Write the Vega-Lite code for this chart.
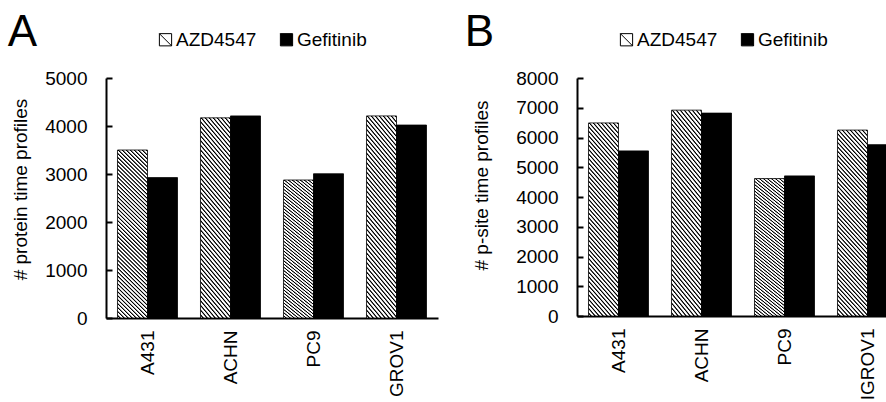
{
  "$schema": "https://vega.github.io/schema/vega-lite/v6.json",
  "padding": {"left": 7, "top": 11, "right": 0, "bottom": 0},
  "config": {
    "view": {"stroke": null},
    "font": "Liberation Sans",
    "axis": {"domainColor": "#000", "domainWidth": 2, "tickColor": "#000", "tickWidth": 2, "labelColor": "#000", "labelFontSize": 19, "labelFont": "Liberation Sans", "titleFont": "Liberation Sans", "titleFontSize": 19, "titleFontWeight": "normal", "titleColor": "#000", "grid": false},
    "axisY": {"tickSize": -6, "labelPadding": 25, "titlePadding": 14, "format": "d"},
    "axisX": {"ticks": false, "labelAngle": -90, "labelPadding": 12},
    "legend": {"labelFontSize": 19, "labelFont": "Liberation Sans", "labelColor": "#000", "symbolType": "M-1,-1H1V1H-1Z M-1,-1L1,1", "symbolSize": 150, "symbolStrokeColor": "#000", "symbolStrokeWidth": 1, "columnPadding": 20, "labelOffset": 1, "padding": 0},
    "title": {"fontSize": 44, "font": "Liberation Sans", "fontWeight": "normal", "color": "#000", "anchor": "start", "frame": "bounds", "offset": -25}
  },
  "datasets": {
    "a": [
      {"cell": "A431", "drug": "AZD4547", "count": 3500},
      {"cell": "A431", "drug": "Gefitinib", "count": 2925},
      {"cell": "ACHN", "drug": "AZD4547", "count": 4170},
      {"cell": "ACHN", "drug": "Gefitinib", "count": 4210},
      {"cell": "PC9", "drug": "AZD4547", "count": 2875},
      {"cell": "PC9", "drug": "Gefitinib", "count": 3005},
      {"cell": "GROV1", "drug": "AZD4547", "count": 4210},
      {"cell": "GROV1", "drug": "Gefitinib", "count": 4020}
    ],
    "b": [
      {"cell": "A431", "drug": "AZD4547", "count": 6490},
      {"cell": "A431", "drug": "Gefitinib", "count": 5550},
      {"cell": "ACHN", "drug": "AZD4547", "count": 6920},
      {"cell": "ACHN", "drug": "Gefitinib", "count": 6820},
      {"cell": "PC9", "drug": "AZD4547", "count": 4620},
      {"cell": "PC9", "drug": "Gefitinib", "count": 4710},
      {"cell": "IGROV1", "drug": "AZD4547", "count": 6250},
      {"cell": "IGROV1", "drug": "Gefitinib", "count": 5760}
    ]
  },
  "resolve": {"scale": {"x": "independent", "y": "independent", "fill": "independent"}, "legend": {"fill": "independent"}},
  "spacing": 26,
  "hconcat": [
    {
      "title": {"text": "A", "dx": -4},
      "data": {"name": "a"},
      "width": 332,
      "height": 240,
      "mark": {"type": "bar", "stroke": "#000", "strokeWidth": 0.8},
      "encoding": {
        "x": {"field": "cell", "type": "nominal", "sort": null, "scale": {"paddingInner": 0.277, "paddingOuter": 0.1385}, "axis": {"title": null}},
        "xOffset": {"field": "drug", "type": "nominal", "sort": ["AZD4547", "Gefitinib"]},
        "y": {"field": "count", "type": "quantitative", "scale": {"domain": [0, 5000]}, "axis": {"title": "# protein time profiles", "titleY": 111, "values": [0, 1000, 2000, 3000, 4000, 5000]}},
        "fill": {
          "condition": {"test": "datum.drug === 'AZD4547'", "value":
          {"gradient": "linear", "x1": 0, "y1": 1, "x2": 0.2014, "y2": -0.141, "stops": [
{"offset":0,"color":"#fff"},{"offset":0.008,"color":"#fff"},{"offset":0.012,"color":"#000"},{"offset":0.015,"color":"#000"},
{"offset":0.02,"color":"#fff"},{"offset":0.028,"color":"#fff"},{"offset":0.032,"color":"#000"},{"offset":0.035,"color":"#000"},
{"offset":0.04,"color":"#fff"},{"offset":0.048,"color":"#fff"},{"offset":0.052,"color":"#000"},{"offset":0.055,"color":"#000"},
{"offset":0.06,"color":"#fff"},{"offset":0.068,"color":"#fff"},{"offset":0.072,"color":"#000"},{"offset":0.075,"color":"#000"},
{"offset":0.08,"color":"#fff"},{"offset":0.088,"color":"#fff"},{"offset":0.092,"color":"#000"},{"offset":0.095,"color":"#000"},
{"offset":0.1,"color":"#fff"},{"offset":0.108,"color":"#fff"},{"offset":0.112,"color":"#000"},{"offset":0.115,"color":"#000"},
{"offset":0.12,"color":"#fff"},{"offset":0.128,"color":"#fff"},{"offset":0.132,"color":"#000"},{"offset":0.135,"color":"#000"},
{"offset":0.14,"color":"#fff"},{"offset":0.148,"color":"#fff"},{"offset":0.152,"color":"#000"},{"offset":0.155,"color":"#000"},
{"offset":0.16,"color":"#fff"},{"offset":0.168,"color":"#fff"},{"offset":0.172,"color":"#000"},{"offset":0.175,"color":"#000"},
{"offset":0.18,"color":"#fff"},{"offset":0.188,"color":"#fff"},{"offset":0.192,"color":"#000"},{"offset":0.195,"color":"#000"},
{"offset":0.2,"color":"#fff"},{"offset":0.208,"color":"#fff"},{"offset":0.212,"color":"#000"},{"offset":0.215,"color":"#000"},
{"offset":0.22,"color":"#fff"},{"offset":0.228,"color":"#fff"},{"offset":0.232,"color":"#000"},{"offset":0.235,"color":"#000"},
{"offset":0.24,"color":"#fff"},{"offset":0.248,"color":"#fff"},{"offset":0.252,"color":"#000"},{"offset":0.255,"color":"#000"},
{"offset":0.26,"color":"#fff"},{"offset":0.268,"color":"#fff"},{"offset":0.272,"color":"#000"},{"offset":0.275,"color":"#000"},
{"offset":0.28,"color":"#fff"},{"offset":0.288,"color":"#fff"},{"offset":0.292,"color":"#000"},{"offset":0.295,"color":"#000"},
{"offset":0.3,"color":"#fff"},{"offset":0.308,"color":"#fff"},{"offset":0.312,"color":"#000"},{"offset":0.315,"color":"#000"},
{"offset":0.32,"color":"#fff"},{"offset":0.328,"color":"#fff"},{"offset":0.332,"color":"#000"},{"offset":0.335,"color":"#000"},
{"offset":0.34,"color":"#fff"},{"offset":0.348,"color":"#fff"},{"offset":0.352,"color":"#000"},{"offset":0.355,"color":"#000"},
{"offset":0.36,"color":"#fff"},{"offset":0.368,"color":"#fff"},{"offset":0.372,"color":"#000"},{"offset":0.375,"color":"#000"},
{"offset":0.38,"color":"#fff"},{"offset":0.388,"color":"#fff"},{"offset":0.392,"color":"#000"},{"offset":0.395,"color":"#000"},
{"offset":0.4,"color":"#fff"},{"offset":0.408,"color":"#fff"},{"offset":0.412,"color":"#000"},{"offset":0.415,"color":"#000"},
{"offset":0.42,"color":"#fff"},{"offset":0.428,"color":"#fff"},{"offset":0.432,"color":"#000"},{"offset":0.435,"color":"#000"},
{"offset":0.44,"color":"#fff"},{"offset":0.448,"color":"#fff"},{"offset":0.452,"color":"#000"},{"offset":0.455,"color":"#000"},
{"offset":0.46,"color":"#fff"},{"offset":0.468,"color":"#fff"},{"offset":0.472,"color":"#000"},{"offset":0.475,"color":"#000"},
{"offset":0.48,"color":"#fff"},{"offset":0.488,"color":"#fff"},{"offset":0.492,"color":"#000"},{"offset":0.495,"color":"#000"},
{"offset":0.5,"color":"#fff"},{"offset":0.508,"color":"#fff"},{"offset":0.512,"color":"#000"},{"offset":0.515,"color":"#000"},
{"offset":0.52,"color":"#fff"},{"offset":0.528,"color":"#fff"},{"offset":0.532,"color":"#000"},{"offset":0.535,"color":"#000"},
{"offset":0.54,"color":"#fff"},{"offset":0.548,"color":"#fff"},{"offset":0.552,"color":"#000"},{"offset":0.555,"color":"#000"},
{"offset":0.56,"color":"#fff"},{"offset":0.568,"color":"#fff"},{"offset":0.572,"color":"#000"},{"offset":0.575,"color":"#000"},
{"offset":0.58,"color":"#fff"},{"offset":0.588,"color":"#fff"},{"offset":0.592,"color":"#000"},{"offset":0.595,"color":"#000"},
{"offset":0.6,"color":"#fff"},{"offset":0.608,"color":"#fff"},{"offset":0.612,"color":"#000"},{"offset":0.615,"color":"#000"},
{"offset":0.62,"color":"#fff"},{"offset":0.628,"color":"#fff"},{"offset":0.632,"color":"#000"},{"offset":0.635,"color":"#000"},
{"offset":0.64,"color":"#fff"},{"offset":0.648,"color":"#fff"},{"offset":0.652,"color":"#000"},{"offset":0.655,"color":"#000"},
{"offset":0.66,"color":"#fff"},{"offset":0.668,"color":"#fff"},{"offset":0.672,"color":"#000"},{"offset":0.675,"color":"#000"},
{"offset":0.68,"color":"#fff"},{"offset":0.688,"color":"#fff"},{"offset":0.692,"color":"#000"},{"offset":0.695,"color":"#000"},
{"offset":0.7,"color":"#fff"},{"offset":0.708,"color":"#fff"},{"offset":0.712,"color":"#000"},{"offset":0.715,"color":"#000"},
{"offset":0.72,"color":"#fff"},{"offset":0.728,"color":"#fff"},{"offset":0.732,"color":"#000"},{"offset":0.735,"color":"#000"},
{"offset":0.74,"color":"#fff"},{"offset":0.748,"color":"#fff"},{"offset":0.752,"color":"#000"},{"offset":0.755,"color":"#000"},
{"offset":0.76,"color":"#fff"},{"offset":0.768,"color":"#fff"},{"offset":0.772,"color":"#000"},{"offset":0.775,"color":"#000"},
{"offset":0.78,"color":"#fff"},{"offset":0.788,"color":"#fff"},{"offset":0.792,"color":"#000"},{"offset":0.795,"color":"#000"},
{"offset":0.8,"color":"#fff"},{"offset":0.808,"color":"#fff"},{"offset":0.812,"color":"#000"},{"offset":0.815,"color":"#000"},
{"offset":0.82,"color":"#fff"},{"offset":0.828,"color":"#fff"},{"offset":0.832,"color":"#000"},{"offset":0.835,"color":"#000"},
{"offset":0.84,"color":"#fff"},{"offset":0.848,"color":"#fff"},{"offset":0.852,"color":"#000"},{"offset":0.855,"color":"#000"},
{"offset":0.86,"color":"#fff"},{"offset":0.868,"color":"#fff"},{"offset":0.872,"color":"#000"},{"offset":0.875,"color":"#000"},
{"offset":0.88,"color":"#fff"},{"offset":0.888,"color":"#fff"},{"offset":0.892,"color":"#000"},{"offset":0.895,"color":"#000"},
{"offset":0.9,"color":"#fff"},{"offset":0.908,"color":"#fff"},{"offset":0.912,"color":"#000"},{"offset":0.915,"color":"#000"},
{"offset":0.92,"color":"#fff"},{"offset":0.928,"color":"#fff"},{"offset":0.932,"color":"#000"},{"offset":0.935,"color":"#000"},
{"offset":0.94,"color":"#fff"},{"offset":0.948,"color":"#fff"},{"offset":0.952,"color":"#000"},{"offset":0.955,"color":"#000"},
{"offset":0.96,"color":"#fff"},{"offset":0.968,"color":"#fff"},{"offset":0.972,"color":"#000"},{"offset":0.975,"color":"#000"},
{"offset":0.98,"color":"#fff"},{"offset":0.988,"color":"#fff"},{"offset":0.992,"color":"#000"},{"offset":0.995,"color":"#000"},
{"offset":1,"color":"#fff"}
          ]}},
          "field": "drug", "type": "nominal",
          "scale": {"domain": ["AZD4547", "Gefitinib"], "range": ["#fff", "#000"]},
          "legend": {"title": null, "orient": "none", "legendX": 50, "legendY": -48, "direction": "horizontal",
            "encode": {"symbols": {"update": {"stroke": {"value": "#000"}, "strokeWidth": {"value": 1}}}}}
        }
      }
    },
    {
      "title": {"text": "B", "dx": -8},
      "data": {"name": "b"},
      "width": 332,
      "height": 238,
      "mark": {"type": "bar", "stroke": "#000", "strokeWidth": 0.8},
      "encoding": {
        "x": {"field": "cell", "type": "nominal", "sort": null, "scale": {"paddingInner": 0.277, "paddingOuter": 0.1385}, "axis": {"title": null}},
        "xOffset": {"field": "drug", "type": "nominal", "sort": ["AZD4547", "Gefitinib"]},
        "y": {"field": "count", "type": "quantitative", "scale": {"domain": [0, 8000]}, "axis": {"title": "# p-site time profiles", "titleY": 107, "titlePadding": 24, "values": [0, 1000, 2000, 3000, 4000, 5000, 6000, 7000, 8000]}},
        "fill": {
          "condition": {"test": "datum.drug === 'AZD4547'", "value":
          {"gradient": "linear", "x1": 0, "y1": 1, "x2": 0.2014, "y2": -0.141, "stops": [
{"offset":0,"color":"#fff"},{"offset":0.008,"color":"#fff"},{"offset":0.012,"color":"#000"},{"offset":0.015,"color":"#000"},
{"offset":0.02,"color":"#fff"},{"offset":0.028,"color":"#fff"},{"offset":0.032,"color":"#000"},{"offset":0.035,"color":"#000"},
{"offset":0.04,"color":"#fff"},{"offset":0.048,"color":"#fff"},{"offset":0.052,"color":"#000"},{"offset":0.055,"color":"#000"},
{"offset":0.06,"color":"#fff"},{"offset":0.068,"color":"#fff"},{"offset":0.072,"color":"#000"},{"offset":0.075,"color":"#000"},
{"offset":0.08,"color":"#fff"},{"offset":0.088,"color":"#fff"},{"offset":0.092,"color":"#000"},{"offset":0.095,"color":"#000"},
{"offset":0.1,"color":"#fff"},{"offset":0.108,"color":"#fff"},{"offset":0.112,"color":"#000"},{"offset":0.115,"color":"#000"},
{"offset":0.12,"color":"#fff"},{"offset":0.128,"color":"#fff"},{"offset":0.132,"color":"#000"},{"offset":0.135,"color":"#000"},
{"offset":0.14,"color":"#fff"},{"offset":0.148,"color":"#fff"},{"offset":0.152,"color":"#000"},{"offset":0.155,"color":"#000"},
{"offset":0.16,"color":"#fff"},{"offset":0.168,"color":"#fff"},{"offset":0.172,"color":"#000"},{"offset":0.175,"color":"#000"},
{"offset":0.18,"color":"#fff"},{"offset":0.188,"color":"#fff"},{"offset":0.192,"color":"#000"},{"offset":0.195,"color":"#000"},
{"offset":0.2,"color":"#fff"},{"offset":0.208,"color":"#fff"},{"offset":0.212,"color":"#000"},{"offset":0.215,"color":"#000"},
{"offset":0.22,"color":"#fff"},{"offset":0.228,"color":"#fff"},{"offset":0.232,"color":"#000"},{"offset":0.235,"color":"#000"},
{"offset":0.24,"color":"#fff"},{"offset":0.248,"color":"#fff"},{"offset":0.252,"color":"#000"},{"offset":0.255,"color":"#000"},
{"offset":0.26,"color":"#fff"},{"offset":0.268,"color":"#fff"},{"offset":0.272,"color":"#000"},{"offset":0.275,"color":"#000"},
{"offset":0.28,"color":"#fff"},{"offset":0.288,"color":"#fff"},{"offset":0.292,"color":"#000"},{"offset":0.295,"color":"#000"},
{"offset":0.3,"color":"#fff"},{"offset":0.308,"color":"#fff"},{"offset":0.312,"color":"#000"},{"offset":0.315,"color":"#000"},
{"offset":0.32,"color":"#fff"},{"offset":0.328,"color":"#fff"},{"offset":0.332,"color":"#000"},{"offset":0.335,"color":"#000"},
{"offset":0.34,"color":"#fff"},{"offset":0.348,"color":"#fff"},{"offset":0.352,"color":"#000"},{"offset":0.355,"color":"#000"},
{"offset":0.36,"color":"#fff"},{"offset":0.368,"color":"#fff"},{"offset":0.372,"color":"#000"},{"offset":0.375,"color":"#000"},
{"offset":0.38,"color":"#fff"},{"offset":0.388,"color":"#fff"},{"offset":0.392,"color":"#000"},{"offset":0.395,"color":"#000"},
{"offset":0.4,"color":"#fff"},{"offset":0.408,"color":"#fff"},{"offset":0.412,"color":"#000"},{"offset":0.415,"color":"#000"},
{"offset":0.42,"color":"#fff"},{"offset":0.428,"color":"#fff"},{"offset":0.432,"color":"#000"},{"offset":0.435,"color":"#000"},
{"offset":0.44,"color":"#fff"},{"offset":0.448,"color":"#fff"},{"offset":0.452,"color":"#000"},{"offset":0.455,"color":"#000"},
{"offset":0.46,"color":"#fff"},{"offset":0.468,"color":"#fff"},{"offset":0.472,"color":"#000"},{"offset":0.475,"color":"#000"},
{"offset":0.48,"color":"#fff"},{"offset":0.488,"color":"#fff"},{"offset":0.492,"color":"#000"},{"offset":0.495,"color":"#000"},
{"offset":0.5,"color":"#fff"},{"offset":0.508,"color":"#fff"},{"offset":0.512,"color":"#000"},{"offset":0.515,"color":"#000"},
{"offset":0.52,"color":"#fff"},{"offset":0.528,"color":"#fff"},{"offset":0.532,"color":"#000"},{"offset":0.535,"color":"#000"},
{"offset":0.54,"color":"#fff"},{"offset":0.548,"color":"#fff"},{"offset":0.552,"color":"#000"},{"offset":0.555,"color":"#000"},
{"offset":0.56,"color":"#fff"},{"offset":0.568,"color":"#fff"},{"offset":0.572,"color":"#000"},{"offset":0.575,"color":"#000"},
{"offset":0.58,"color":"#fff"},{"offset":0.588,"color":"#fff"},{"offset":0.592,"color":"#000"},{"offset":0.595,"color":"#000"},
{"offset":0.6,"color":"#fff"},{"offset":0.608,"color":"#fff"},{"offset":0.612,"color":"#000"},{"offset":0.615,"color":"#000"},
{"offset":0.62,"color":"#fff"},{"offset":0.628,"color":"#fff"},{"offset":0.632,"color":"#000"},{"offset":0.635,"color":"#000"},
{"offset":0.64,"color":"#fff"},{"offset":0.648,"color":"#fff"},{"offset":0.652,"color":"#000"},{"offset":0.655,"color":"#000"},
{"offset":0.66,"color":"#fff"},{"offset":0.668,"color":"#fff"},{"offset":0.672,"color":"#000"},{"offset":0.675,"color":"#000"},
{"offset":0.68,"color":"#fff"},{"offset":0.688,"color":"#fff"},{"offset":0.692,"color":"#000"},{"offset":0.695,"color":"#000"},
{"offset":0.7,"color":"#fff"},{"offset":0.708,"color":"#fff"},{"offset":0.712,"color":"#000"},{"offset":0.715,"color":"#000"},
{"offset":0.72,"color":"#fff"},{"offset":0.728,"color":"#fff"},{"offset":0.732,"color":"#000"},{"offset":0.735,"color":"#000"},
{"offset":0.74,"color":"#fff"},{"offset":0.748,"color":"#fff"},{"offset":0.752,"color":"#000"},{"offset":0.755,"color":"#000"},
{"offset":0.76,"color":"#fff"},{"offset":0.768,"color":"#fff"},{"offset":0.772,"color":"#000"},{"offset":0.775,"color":"#000"},
{"offset":0.78,"color":"#fff"},{"offset":0.788,"color":"#fff"},{"offset":0.792,"color":"#000"},{"offset":0.795,"color":"#000"},
{"offset":0.8,"color":"#fff"},{"offset":0.808,"color":"#fff"},{"offset":0.812,"color":"#000"},{"offset":0.815,"color":"#000"},
{"offset":0.82,"color":"#fff"},{"offset":0.828,"color":"#fff"},{"offset":0.832,"color":"#000"},{"offset":0.835,"color":"#000"},
{"offset":0.84,"color":"#fff"},{"offset":0.848,"color":"#fff"},{"offset":0.852,"color":"#000"},{"offset":0.855,"color":"#000"},
{"offset":0.86,"color":"#fff"},{"offset":0.868,"color":"#fff"},{"offset":0.872,"color":"#000"},{"offset":0.875,"color":"#000"},
{"offset":0.88,"color":"#fff"},{"offset":0.888,"color":"#fff"},{"offset":0.892,"color":"#000"},{"offset":0.895,"color":"#000"},
{"offset":0.9,"color":"#fff"},{"offset":0.908,"color":"#fff"},{"offset":0.912,"color":"#000"},{"offset":0.915,"color":"#000"},
{"offset":0.92,"color":"#fff"},{"offset":0.928,"color":"#fff"},{"offset":0.932,"color":"#000"},{"offset":0.935,"color":"#000"},
{"offset":0.94,"color":"#fff"},{"offset":0.948,"color":"#fff"},{"offset":0.952,"color":"#000"},{"offset":0.955,"color":"#000"},
{"offset":0.96,"color":"#fff"},{"offset":0.968,"color":"#fff"},{"offset":0.972,"color":"#000"},{"offset":0.975,"color":"#000"},
{"offset":0.98,"color":"#fff"},{"offset":0.988,"color":"#fff"},{"offset":0.992,"color":"#000"},{"offset":0.995,"color":"#000"},
{"offset":1,"color":"#fff"}
          ]}},
          "field": "drug", "type": "nominal",
          "scale": {"domain": ["AZD4547", "Gefitinib"], "range": ["#fff", "#000"]},
          "legend": {"title": null, "orient": "none", "legendX": 40, "legendY": -48, "direction": "horizontal",
            "encode": {"symbols": {"update": {"stroke": {"value": "#000"}, "strokeWidth": {"value": 1}}}}}
        }
      }
    }
  ]
}
